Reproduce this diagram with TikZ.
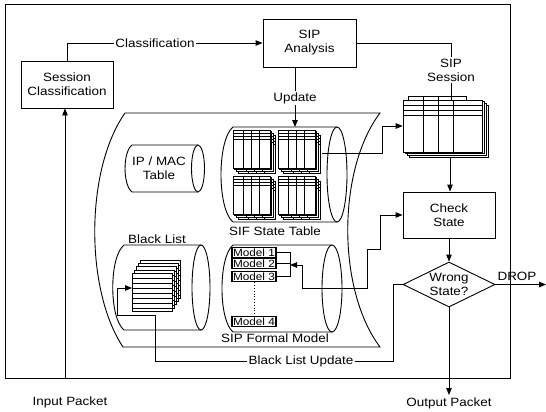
\documentclass[tikz,border=0pt]{standalone}
\usepackage{fontspec}
\setmainfont{Liberation Sans}[FakeStretch=1.12]
\usetikzlibrary{arrows.meta,shapes.geometric}
\newcommand\ststack[2]{%
  \foreach \k in {3,2,1,0}{%
    \begin{scope}[shift={(#1+1.7*\k,#2+1.7*\k)}]
      \filldraw[sheet] (0,0) rectangle (37,38);
      \draw[line width=0.5pt] (10,0)--(10,38) (18,0)--(18,38) (26,0)--(26,38)
        (0,3)--(37,3) (0,6)--(37,6) (0,9)--(37,9);
    \end{scope}}}
\begin{document}
\begin{tikzpicture}[x=1pt,y=-1pt,line width=0.9pt,
  >={Triangle[length=7pt,width=5.5pt]},
  box/.style={draw,minimum width=92pt,minimum height=47pt,align=center,font=\fontsize{12}{14}\selectfont,inner sep=1pt},
  lbl/.style={font=\fontsize{12}{14}\selectfont,align=center,inner sep=1pt},
  mdl/.style={draw,font=\fontsize{10.5}{11}\selectfont,inner sep=0.3pt,minimum width=44pt,minimum height=10.5pt,line width=1.1pt},
  sheet/.style={draw,fill=white,line width=0.6pt}]
\useasboundingbox (0,0) rectangle (546,412);
% frame
\draw[line width=0.6pt] (5,4) rectangle (510,378);
% container
\draw (125,113) -- (380,113) .. controls (337,170) and (337,290) .. (380,347)
  -- (123,347) .. controls (85,290) and (85,170) .. (125,113);
% IP/MAC cylinder
\draw (132,145) -- (198,145) (132,192) -- (198,192)
  (132,145) .. controls (122.7,152) and (122.7,185) .. (132,192);
\draw (198,168.5) ellipse (6.5 and 23.5);
% SIF cylinder
\draw (233,127) -- (337,127) (233,222) -- (337,222)
  (233,127) .. controls (217,140) and (217,209) .. (233,222);
\draw (337,174.5) ellipse (10 and 47.5);
% Black list cylinder
\draw (124,245) -- (201,245) (124,330) -- (201,330)
  (124,245) .. controls (109,257) and (109,318) .. (124,330);
\draw (201,287.5) ellipse (9 and 42.5);
% SIP formal cylinder
\draw (233,245) -- (332,245) (233,332) -- (332,332)
  (233,245) .. controls (218.3,257) and (218.3,320) .. (233,332);
\draw (332,288.5) ellipse (10 and 43.5);
% state tables
\ststack{233}{130}
\ststack{278}{130}
\ststack{233}{176}
\ststack{278}{176}
% black list sheets
\foreach \k in {4,3,2,1,0}{%
  \begin{scope}[shift={(132+2*\k,273-3.2*\k)}]
    \filldraw[sheet] (0,0) rectangle (40,38);
    \foreach \i in {5,10,...,35} \draw[line width=0.5pt] (0,\i) -- (40,\i);
  \end{scope}}
% session table
\foreach \k in {3,2,1}{%
  \begin{scope}[shift={(2*\k,1.6*\k)}]
    \filldraw[sheet] (403,100) rectangle (482,152);
  \end{scope}}
\filldraw[sheet] (408,96) rectangle (466,100);
\draw[line width=0.5pt] (423,96)--(423,100) (438,96)--(438,100);
\node[sheet,minimum width=79pt,minimum height=52pt,inner sep=0pt] (sess) at (442.5,126) {};
\draw[line width=0.5pt] (423,100)--(423,152) (438,100)--(438,152) (453,100)--(453,152)
  (403,105)--(482,105) (403,110)--(482,110);
\draw[line width=0.8pt] (403,115)--(482,115);
% boxes
\node[box] (sc) at (67,84.5) {Session\\Classification};
\node[box,minimum width=93pt,minimum height=48pt] (ana) at (309.5,43) {SIP\\Analysis};
\node[box,minimum height=46pt] (chk) at (449,215) {Check\\State};
\node[draw,diamond,aspect=2.04,minimum width=92pt,minimum height=45pt,inner sep=0pt,lbl] (wr) at (449,284.5) {Wrong\\State?};
% models
\node[mdl] (m1) at (254,252.5) {Model 1};
\node[mdl] (m2) at (254,263.5) {Model 2};
\node[mdl] (m3) at (254,276.5) {Model 3};
\node[mdl] (m4) at (254,321.5) {Model 4};
\draw[dotted,line width=0.8pt] (m3.south) -- (m4.north);
\coordinate (brk) at (290,265);
\draw (m1.east) -| (m3.east -| brk) -- (m3.east);
\draw (m2.east) -- (m2.east -| brk);
% labels
\node[lbl] (ses) at (451,70) {SIP\\Session};
\node[lbl] (upd) at (295,98) {Update};
\node[lbl] (ipm) at (159,168) {IP / MAC\\Table};
\node[lbl] (sst) at (275,231) {SIF State Table};
\node[lbl] (blt) at (157,239) {Black List};
\node[lbl] (sfm) at (275,338) {SIP Formal Model};
\node[lbl] (blu) at (301,361) {Black List Update};
\node[lbl] (drop) at (517,276) {DROP};
\node[lbl] (outp) at (449,403) {Output Packet};
\node[lbl] (inp) at (70,402) {Input Packet};
% connectors
\coordinate (inb) at (65,378);
\draw[->] (inb) -- (inb |- sc.south);
\draw[->] (sc.north) |- (ana.west);
\node[lbl,fill=white] (cls) at (155,43) {Classification};
\draw (ana.east) -| (ses.north);
\draw (ses.south) -- (ses.south |- sess.north);
\draw (ana.south -| upd.north) -- (upd.north);
\coordinate (sift) at (295,127);
\draw[->] (upd.south) -- (sift);
\coordinate (stb) at (322,153);
\draw[->] (stb) -- ++(60,0) |- (sess.west);
\coordinate (sessb) at (450,157);
\draw[->] (sessb) -- (sessb |- chk.north);
\draw[->] (chk.south) -- (wr.north);
\coordinate (dropend) at (546,284.5);
\draw[->] (wr.east) -- (dropend);
\coordinate (outend) at (449,395);
\draw[->] (wr.south) -- (outend);
\draw (wr.west) -- ++(-9,0) |- (blu.east);
\coordinate (blin) at (132,288);
\draw[->] (blu.west) -| (155,315) -| (117,288) -- (blin);
\draw[<->] (brk) -| (302,288.5) -| (367,249) -| (380,215) -- (chk.west);
\end{tikzpicture}
\end{document}
